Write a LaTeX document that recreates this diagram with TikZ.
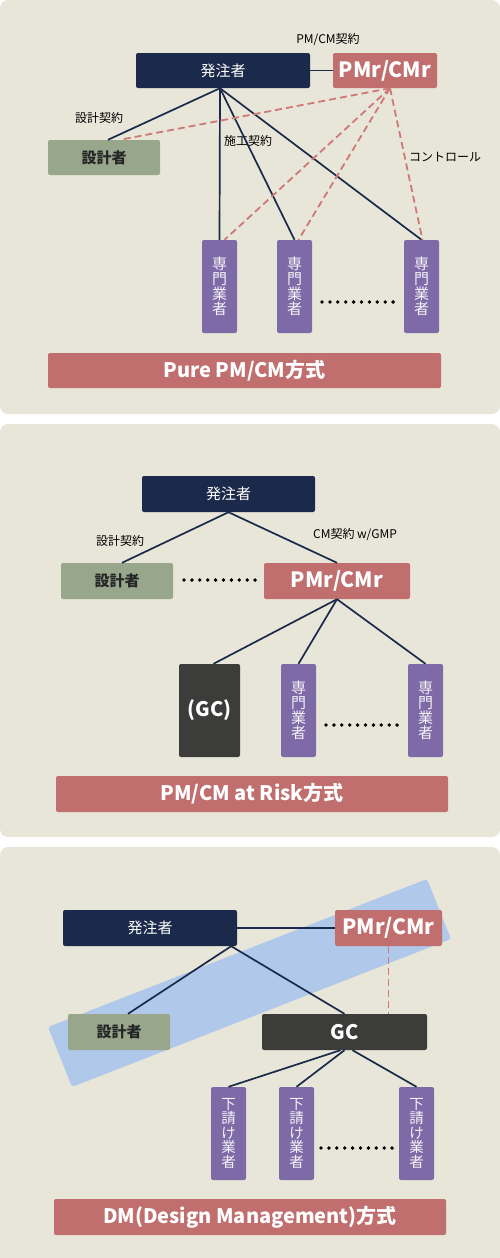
\documentclass[tikz,border=0pt]{standalone}
\usepackage{fontspec}
\setmainfont{Noto Sans CJK JP}
\usetikzlibrary{calc}
\definecolor{dgnavy}{HTML}{1B2A4A}
\definecolor{dgrose}{HTML}{C16E6E}
\definecolor{dgsage}{HTML}{98A78C}
\definecolor{dgviolet}{HTML}{7F6AA8}
\definecolor{dgcharcoal}{HTML}{3C3C3A}
\definecolor{dgpaper}{HTML}{E8E6D8}
\definecolor{dgsky}{HTML}{B0C8E9}
\definecolor{dgdash}{HTML}{D07878}

\tikzset{
  box/.style={rounded corners=2pt, inner sep=0pt, align=center},
  owner/.style={box, fill=dgnavy, text=white, minimum width=174pt, minimum height=35pt,
    font=\fontsize{15}{15}\selectfont},
  pmr/.style={box, fill=dgrose, text=white, minimum height=35pt,
    font=\fontsize{21}{21}\selectfont\bfseries},
  designer/.style={box, fill=dgsage, text=black!85, minimum height=35pt,
    font=\fontsize{15}{15}\selectfont\bfseries},
  trade/.style={box, fill=dgviolet, text=white!92!dgviolet, minimum width=35pt, minimum height=93pt,
    font=\fontsize{15}{15}\selectfont},
  gcbox/.style={box, fill=dgcharcoal, text=white, font=\fontsize{20}{20}\selectfont\bfseries},
  banner/.style={box, fill=dgrose, text=white, minimum width=393pt, minimum height=35pt,
    font=\fontsize{20}{20}\selectfont\bfseries},
  lbl/.style={inner sep=0pt, text=black, font=\fontsize{12}{12}\selectfont},
  contract/.style={dgnavy, line width=1.7pt},
  ctrl/.style={dgdash, line width=1.8pt, dash pattern=on 7pt off 4pt},
}

\begin{document}
\begin{tikzpicture}[x=1pt, y=-1pt]
  \useasboundingbox (0,0) rectangle (500,1258);

  % ---- Panels ----
  \fill[dgpaper, rounded corners=8pt] (0,0) rectangle (500,414);
  \fill[dgpaper, rounded corners=8pt] (0,424) rectangle (500,837);
  \fill[dgpaper, rounded corners=8pt] (0,847) rectangle (500,1268);

  % ==== Panel 1: Pure PM/CM ====
  \node[owner] (hc1) at (223,70.5) {発注者};
  \node[pmr, minimum width=104pt] (pm1) at (385,70.5) {PMr/CMr};
  \node[designer, minimum width=112pt] (sk1) at (104,157.5) {設計者};
  \node[trade] (s11) at (219.5,286.5) {専\\門\\業\\者};
  \node[trade] (s12) at (294.5,286.5) {専\\門\\業\\者};
  \node[trade] (s13) at (421.5,286.5) {専\\門\\業\\者};
  \node[banner] (b1) at (244.5,370.5) {Pure PM/CM方式};

  % labels
  \node[lbl] (l11) at (328,40) {PM/CM契約};
  \node[lbl] (l12) at (99,118) {設計契約};
  \node[lbl] (l13) at (248,141) {施工契約};
  \node[lbl] (l14) at (445,157) {コントロール};

  % contracts
  \draw[contract] (hc1.east) -- (pm1.west);
  \draw[contract] ($(hc1.south)+(-3,0)$) -- ($(sk1.north)+(4,0)$);
  \draw[contract] ($(hc1.south)+(-3,0)$) -- (s11.north);
  \draw[contract] ($(hc1.south)+(-3,0)$) -- (s12.north);
  \draw[contract] ($(hc1.south)+(-3,0)$) -- (s13.north);

  % control (dashed)
  \draw[ctrl] ($(pm1.south)+(5,0)$) -- ($(sk1.north)+(16,0)$);
  \draw[ctrl] ($(pm1.south)+(5,0)$) -- ($(s11.north)+(5,0)$);
  \draw[ctrl] ($(pm1.south)+(5,0)$) -- ($(s12.north)+(4,0)$);
  \draw[ctrl] ($(pm1.south)+(5,0)$) -- ($(s13.north)+(1,0)$);

  \foreach \i in {0,...,9}
    \fill (322+\i*7.9,302) circle (1.9pt);

  % ==== Panel 2: PM/CM at Risk ====
  \node[owner, minimum width=173pt, minimum height=36pt] (hc2) at (228.5,494) {発注者};
  \node[designer, minimum width=112pt, minimum height=36pt] (sk2) at (117,581) {設計者};
  \node[pmr, minimum width=146pt, minimum height=36pt] (pm2) at (337,581) {PMr/CMr};
  \node[gcbox, minimum width=61pt, minimum height=93pt] (gc2) at (209.5,710.5) {(GC)};
  \node[trade] (s21) at (298.5,710.5) {専\\門\\業\\者};
  \node[trade] (s22) at (425.5,710.5) {専\\門\\業\\者};
  \node[banner, minimum width=392pt, minimum height=36pt] (b2) at (252,794) {PM/CM at Risk方式};

  \node[lbl] (l21) at (120,541) {設計契約};
  \node[lbl] (l22) at (355,535) {CM契約 w/GMP};

  \draw[contract] (hc2.south) -- ($(sk2.north)+(5,0)$);
  \draw[contract] (hc2.south) -- (pm2.north);
  \draw[contract] (pm2.south) -- ($(gc2.north)+(4,0)$);
  \draw[contract] (pm2.south) -- (s21.north);
  \draw[contract] (pm2.south) -- (s22.north);

  \foreach \i in {0,...,9}
    \fill (184+\i*7.9,580) circle (1.9pt);
  \foreach \i in {0,...,9}
    \fill (326+\i*7.9,725) circle (1.9pt);

  % ==== Panel 3: DM ====
  % band behind the design side
  \fill[dgsky, rounded corners=3pt] (48,1027) -- (427,879) -- (451,939) -- (72,1087) -- cycle;

  \node[owner, minimum height=36pt] (hc3) at (150,928) {発注者};
  \node[pmr, minimum width=107pt, minimum height=36pt] (pm3) at (388.5,928) {PMr/CMr};
  \node[designer, minimum width=102pt, minimum height=36pt] (sk3) at (119,1032) {設計者};
  \node[gcbox, minimum width=165pt, minimum height=36pt] (gc3) at (344.5,1032) {GC};
  \node[trade, font=\fontsize{14.5}{14.5}\selectfont] (t31) at (228.5,1133.5) {下\\請\\け\\業\\者};
  \node[trade, font=\fontsize{14.5}{14.5}\selectfont] (t32) at (296.5,1133.5) {下\\請\\け\\業\\者};
  \node[trade, font=\fontsize{14.5}{14.5}\selectfont] (t33) at (416.5,1133.5) {下\\請\\け\\業\\者};
  \node[banner, minimum width=392pt, minimum height=36pt] (b3) at (250,1217) {DM(Design Management)方式};

  \draw[contract] (hc3.east) -- (pm3.west);
  \draw[contract] ($(hc3.south east)+(-6,0)$) -- ($(sk3.north)+(9,0)$);
  \draw[contract] ($(hc3.south east)+(-6,0)$) -- (gc3.north);
  \draw[ctrl] (pm3.south) -- (pm3.south |- gc3.north);
  \draw[contract] ($(gc3.south)+(-4,0)$) -- (t31.north);
  \draw[contract] (gc3.south) -- (t32.north);
  \draw[contract] ($(gc3.south)+(8,0)$) -- (t33.north);

  \foreach \i in {0,...,9}
    \fill (321+\i*7.9,1148) circle (1.9pt);

\end{tikzpicture}
\end{document}
